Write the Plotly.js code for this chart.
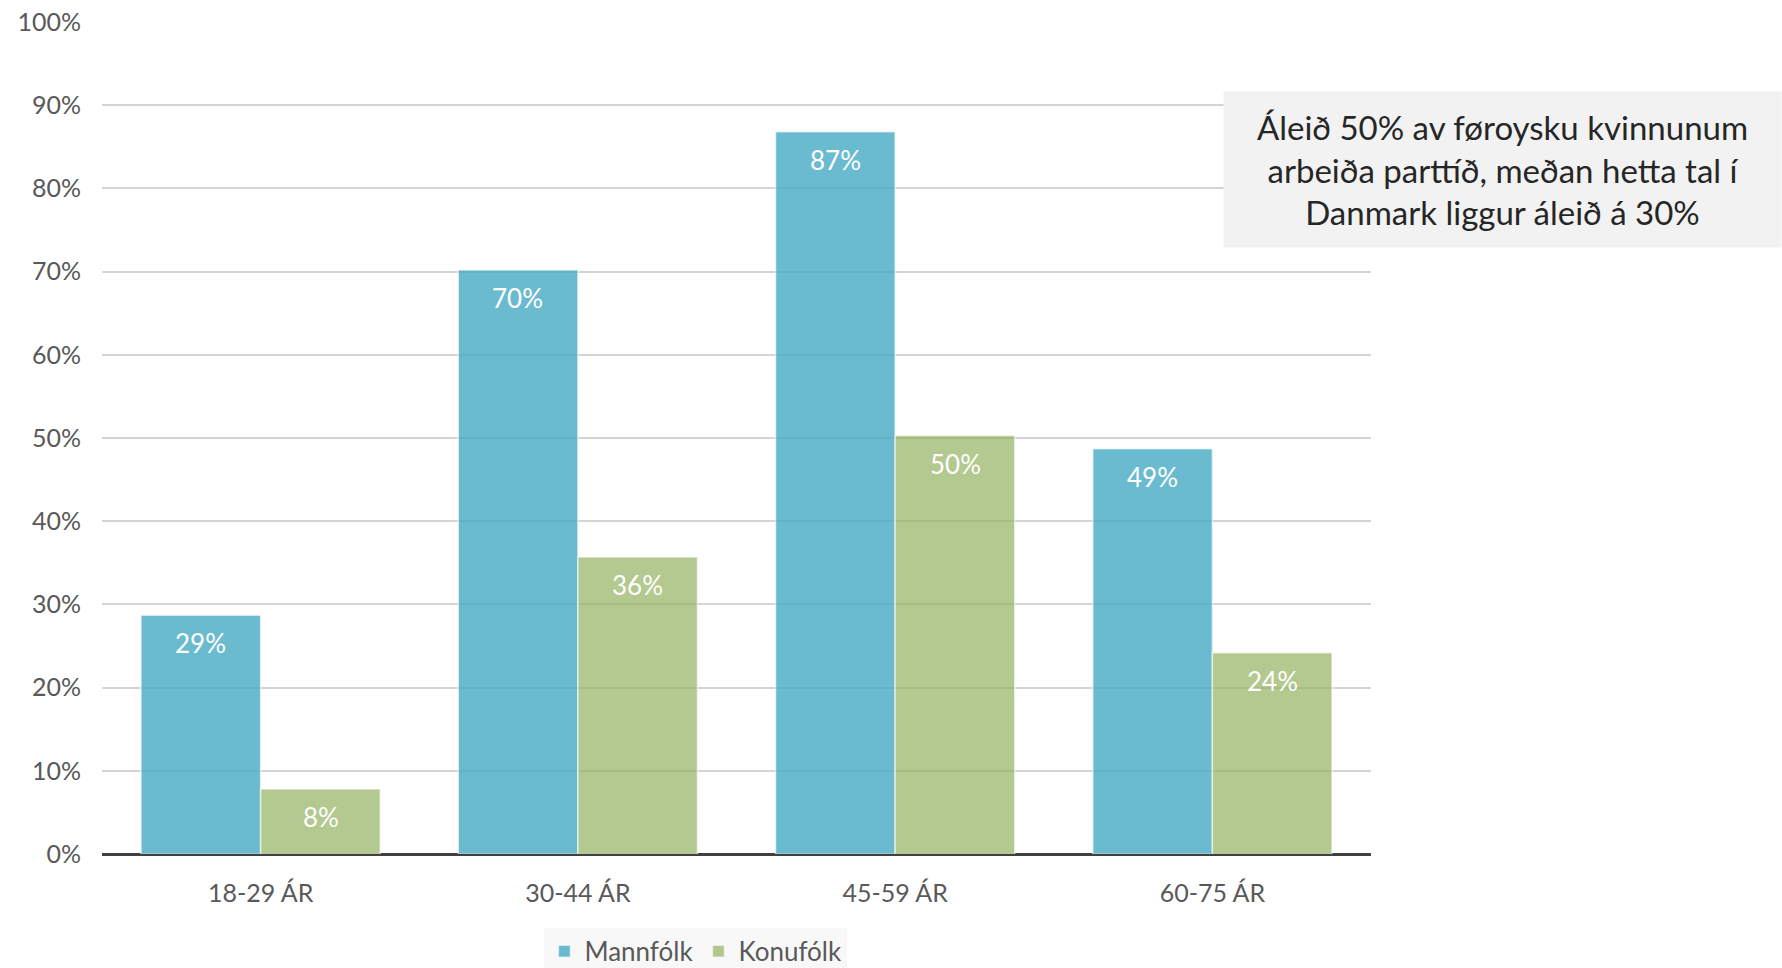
<!DOCTYPE html>
<html>
<head>
<meta charset="utf-8">
<script src="https://cdn.plot.ly/plotly-3.0.1.min.js"></script>
<style>html,body{margin:0;padding:0;background:#fff;}#chart{width:1782px;height:968px;}</style>
</head>
<body>
<div id="chart"></div>
<script>
const categories = ["18-29 ÁR", "30-44 ÁR", "45-59 ÁR", "60-75 ÁR"];
const mannfolk = [28.7, 70.2, 86.8, 48.7];
const konufolk = [7.8, 35.7, 50.3, 24.2];
const seriesNames = ["Mannfólk", "Konufólk"];
const noteText = "Áleið 50% av føroysku kvinnunum<br>arbeiða parttíð, meðan hetta tal í<br>Danmark liggur áleið á 30%";

const font = "Lato, 'Open Sans', sans-serif";
const common = {
  type: "bar",
  x: categories,
  textposition: "none",
  hoverinfo: "skip"
};
const traces = [
  Object.assign({}, common, {
    name: seriesNames[0], y: mannfolk,
    marker: {color: "rgba(75,172,198,0.82)", line: {color: "rgba(255,255,255,0.6)", width: 1.5}}
  }),
  Object.assign({}, common, {
    name: seriesNames[1], y: konufolk,
    marker: {color: "rgba(150,180,100,0.72)", line: {color: "rgba(255,255,255,0.6)", width: 1.5}}
  })
];

// value labels near top inside each bar
const barOffset = 60;
const labelAnns = [];
[mannfolk, konufolk].forEach((series, si) => {
  series.forEach((v, i) => {
    labelAnns.push({
      xref: "x", yref: "y", x: categories[i], y: v,
      xshift: si === 0 ? -barOffset : barOffset, yshift: -28,
      xanchor: "center", yanchor: "middle", showarrow: false,
      text: Math.round(v) + "%",
      font: {family: font, size: 26, color: "#ffffff"}
    });
  });
});

const layout = {
  width: 1782, height: 968,
  margin: {l: 102, r: 411, t: 22, b: 114, autoexpand: false},
  paper_bgcolor: "#ffffff", plot_bgcolor: "#ffffff",
  barmode: "group", bargap: 0.246, bargroupgap: 0,
  font: {family: font, color: "#595959"},
  xaxis: {
    showgrid: false, ticks: "", tickfont: {size: 25, color: "#595959"},
    showline: false, zeroline: false, ticklabelstandoff: 22
  },
  yaxis: {
    range: [0, 100], dtick: 10, ticksuffix: "%",
    showgrid: true, gridcolor: "#d4d4d4", gridwidth: 2,
    zeroline: true, zerolinecolor: "#404040", zerolinewidth: 3,
    tickfont: {size: 25, color: "#595959"}, ticks: "", showline: false,
    ticklabelstandoff: 20
  },
  legend: {
    orientation: "h", x: 0.468, xanchor: "center", y: -0.117, yanchor: "middle",
    bgcolor: "#f8f8f8", font: {size: 26, color: "#595959"},
    itemwidth: 30, traceorder: "normal"
  },
  annotations: labelAnns.concat([{
    xref: "paper", yref: "paper", x: 1.104, y: 0.8227,
    xanchor: "center", yanchor: "middle",
    text: noteText, showarrow: false, align: "center",
    bgcolor: "#f2f2f2", width: 557, height: 155, borderpad: 0,
    font: {family: font, size: 33, color: "#262626"}
  }])
};

Plotly.newPlot("chart", traces, layout, {displayModeBar: false, responsive: false});
</script>
</body>
</html>
